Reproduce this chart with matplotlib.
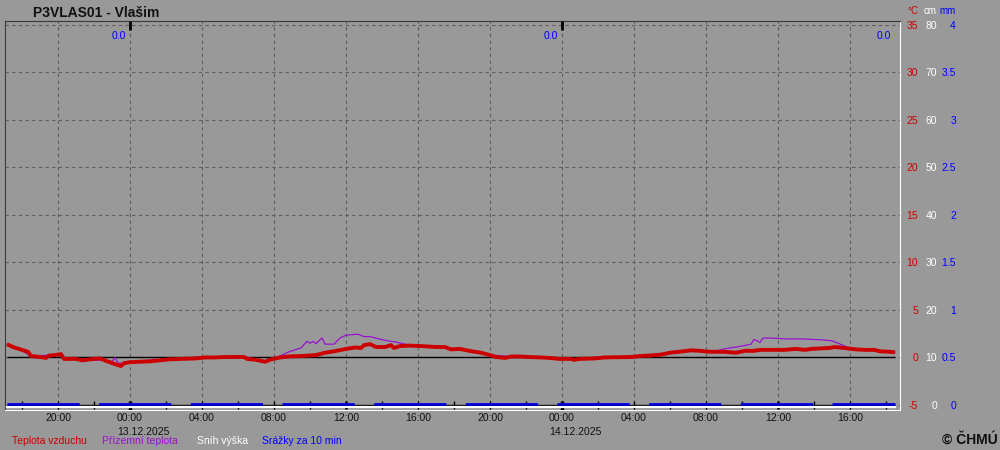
import matplotlib
matplotlib.use("Agg")
import matplotlib.pyplot as plt
import matplotlib.dates as mdates
import matplotlib.transforms as mtransforms
from matplotlib.ticker import FuncFormatter
import pandas as pd

plt.rcParams['font.family'] = ['Liberation Sans', 'DejaVu Sans']
plt.rcParams['axes.unicode_minus'] = False

# Teplota vzduchu (°C)
air_times = [
    "2025-12-12 17:10", "2025-12-12 17:30", "2025-12-12 17:50", "2025-12-12 18:20", "2025-12-12 18:30",
    "2025-12-12 19:00", "2025-12-12 19:20", "2025-12-12 19:30", "2025-12-12 19:50", "2025-12-12 20:10",
    "2025-12-12 20:20", "2025-12-12 21:00", "2025-12-12 21:20", "2025-12-12 22:00", "2025-12-12 22:20",
    "2025-12-12 22:40", "2025-12-12 23:10", "2025-12-12 23:30", "2025-12-12 23:40",
    "2025-12-13 00:00", "2025-12-13 00:30", "2025-12-13 01:10", "2025-12-13 01:40", "2025-12-13 02:10",
    "2025-12-13 02:50", "2025-12-13 03:40", "2025-12-13 04:10", "2025-12-13 04:40", "2025-12-13 05:20",
    "2025-12-13 06:20", "2025-12-13 06:30", "2025-12-13 07:00", "2025-12-13 07:30", "2025-12-13 07:50",
    "2025-12-13 08:20", "2025-12-13 08:50", "2025-12-13 09:30", "2025-12-13 10:20", "2025-12-13 10:50",
    "2025-12-13 11:20", "2025-12-13 12:00", "2025-12-13 12:30", "2025-12-13 12:50", "2025-12-13 13:00",
    "2025-12-13 13:20", "2025-12-13 13:40", "2025-12-13 14:10", "2025-12-13 14:30", "2025-12-13 14:40",
    "2025-12-13 15:00", "2025-12-13 15:30", "2025-12-13 16:10", "2025-12-13 17:00", "2025-12-13 17:30",
    "2025-12-13 17:50", "2025-12-13 18:20", "2025-12-13 18:50", "2025-12-13 19:30", "2025-12-13 20:00",
    "2025-12-13 20:20", "2025-12-13 20:50", "2025-12-13 21:10", "2025-12-13 21:40", "2025-12-13 22:10",
    "2025-12-13 22:50", "2025-12-13 23:20", "2025-12-13 23:50",
    "2025-12-14 00:30", "2025-12-14 00:40", "2025-12-14 01:00", "2025-12-14 01:50", "2025-12-14 02:20",
    "2025-12-14 03:50", "2025-12-14 04:20", "2025-12-14 04:50", "2025-12-14 05:30", "2025-12-14 06:00",
    "2025-12-14 06:30", "2025-12-14 07:10", "2025-12-14 07:40", "2025-12-14 08:10", "2025-12-14 09:00",
    "2025-12-14 09:40", "2025-12-14 10:10", "2025-12-14 10:40", "2025-12-14 11:00", "2025-12-14 11:30",
    "2025-12-14 12:20", "2025-12-14 13:00", "2025-12-14 13:30", "2025-12-14 13:50", "2025-12-14 14:20",
    "2025-12-14 14:50", "2025-12-14 15:10", "2025-12-14 15:40", "2025-12-14 16:20", "2025-12-14 16:50",
    "2025-12-14 17:20", "2025-12-14 17:40", "2025-12-14 18:10", "2025-12-14 18:30",
]
air_temp = [
    1.4, 1.1, 0.9, 0.6, 0.15, 0.05, -0.05, 0.2, 0.25, 0.35,
    -0.15, -0.15, -0.3, -0.15, -0.1, -0.35, -0.7, -0.9, -0.6,
    -0.5, -0.45, -0.4, -0.3, -0.2, -0.15, -0.1, 0.0, 0.0, 0.05,
    0.05, -0.15, -0.25, -0.45, -0.2, 0.0, 0.1, 0.15, 0.25, 0.5,
    0.65, 0.9, 1.05, 1.0, 1.3, 1.4, 1.1, 1.1, 1.3, 1.0,
    1.2, 1.25, 1.2, 1.1, 1.1, 0.85, 0.9, 0.7, 0.5, 0.25,
    0.05, -0.05, 0.1, 0.1, 0.05, 0.0, -0.05, -0.15,
    -0.15, -0.25, -0.15, -0.1, 0.0, 0.05, 0.15, 0.2, 0.3, 0.5,
    0.6, 0.75, 0.7, 0.6, 0.6, 0.5, 0.7, 0.7, 0.8, 0.8,
    0.8, 0.9, 0.8, 0.9, 0.95, 1.0, 1.1, 1.0, 0.85, 0.8,
    0.8, 0.65, 0.6, 0.55,
]

# Přízemní teplota (°C)
ground_times = [
    "2025-12-12 17:10", "2025-12-12 17:50", "2025-12-12 18:30", "2025-12-12 20:10", "2025-12-12 20:20",
    "2025-12-12 21:20", "2025-12-12 22:40", "2025-12-12 23:00", "2025-12-12 23:10", "2025-12-12 23:20",
    "2025-12-12 23:40",
    "2025-12-13 00:30", "2025-12-13 01:10", "2025-12-13 01:20", "2025-12-13 01:30", "2025-12-13 02:50",
    "2025-12-13 03:40", "2025-12-13 06:20", "2025-12-13 07:30", "2025-12-13 08:00", "2025-12-13 08:50",
    "2025-12-13 09:30", "2025-12-13 09:50", "2025-12-13 10:00", "2025-12-13 10:10", "2025-12-13 10:20",
    "2025-12-13 10:40", "2025-12-13 10:50", "2025-12-13 11:20", "2025-12-13 11:40", "2025-12-13 12:00",
    "2025-12-13 12:40", "2025-12-13 13:00", "2025-12-13 13:20", "2025-12-13 13:50", "2025-12-13 14:20",
    "2025-12-13 14:50", "2025-12-13 15:30", "2025-12-13 16:10", "2025-12-13 17:30", "2025-12-13 18:50",
    "2025-12-13 20:00", "2025-12-13 21:40", "2025-12-13 23:20",
    "2025-12-14 00:40", "2025-12-14 02:20", "2025-12-14 04:50", "2025-12-14 06:00", "2025-12-14 07:10",
    "2025-12-14 08:30", "2025-12-14 09:00", "2025-12-14 10:00", "2025-12-14 10:30", "2025-12-14 10:40",
    "2025-12-14 11:00", "2025-12-14 11:10", "2025-12-14 11:30", "2025-12-14 12:30", "2025-12-14 13:20",
    "2025-12-14 14:30", "2025-12-14 15:00", "2025-12-14 15:20", "2025-12-14 15:50", "2025-12-14 16:20",
    "2025-12-14 17:40", "2025-12-14 18:30",
]
ground_temp = [
    1.4, 0.9, 0.15, 0.3, -0.1, -0.25, -0.3, -0.45, 0.0, -0.6,
    -0.6,
    -0.35, -0.3, -0.15, -0.35, -0.1, 0.0, 0.1, -0.4, -0.15, 0.6,
    1.0, 1.7, 1.5, 1.7, 1.45, 2.05, 1.4, 1.4, 2.05, 2.35,
    2.45, 2.2, 2.2, 1.95, 1.75, 1.6, 1.3, 1.2, 1.1, 0.7,
    0.25, 0.05, -0.1,
    -0.2, 0.0, 0.2, 0.5, 0.75, 0.65, 0.9, 1.2, 1.4, 1.9,
    1.6, 2.05, 2.05, 1.95, 1.95, 1.85, 1.75, 1.5, 1.1, 0.85,
    0.65, 0.55,
]

# Sníh výška (cm) a Srážky za 10 min (mm)
snow_times = ["2025-12-12 17:10", "2025-12-14 18:30"]
snow_cm = [0, 0]
rain_times = ["2025-12-12 17:10", "2025-12-14 18:30"]
rain_mm = [0.0, 0.0]

# denní úhrny srážek
day_end_times = ["2025-12-13 00:00", "2025-12-14 00:00", "2025-12-14 18:30"]
day_rain_sum = [0.0, 0.0, 0.0]

temp_ticks = [-5, 0, 5, 10, 15, 20, 25, 30, 35]
cm_ticks = [0, 10, 20, 30, 40, 50, 60, 70, 80]
mm_ticks = [0, 0.5, 1, 1.5, 2, 2.5, 3, 3.5, 4]
mm_labels = ["0", "0.5", "1", "1.5", "2", "2.5", "3", "3.5", "4"]

legend_labels = ["Teplota vzduchu", "Přízemní teplota", "Sníh výška", "Srážky za 10 min"]
legend_colors = ["#cc0000", "#9a10d0", "white", "#0000ff"]

BG = "#999999"
RED = "#cc0000"
PURPLE = "#9a10d0"
BLUE = "#0000ff"

air_t = pd.to_datetime(air_times)
ground_t = pd.to_datetime(ground_times)
snow_t = pd.to_datetime(snow_times)
rain_t = pd.to_datetime(rain_times)
day_end_t = pd.to_datetime(day_end_times)

fig = plt.figure(figsize=(10, 4.5), dpi=100, facecolor=BG)
ax = fig.add_axes([0.005, 0.0889, 0.895, 0.8644], facecolor=BG)

t_lo, t_hi = -5.53, 35.42
ax.set_ylim(t_lo, t_hi)
ax.set_xlim(pd.Timestamp("2025-12-12 17:03:20"), pd.Timestamp("2025-12-14 18:46:40"))

# twin scales for snow (cm) and precipitation (mm)
ax_cm = ax.twinx()
ax_cm.set_ylim((t_lo + 5) * 2, (t_hi + 5) * 2)
ax_mm = ax.twinx()
ax_mm.set_ylim((t_lo + 5) / 10, (t_hi + 5) / 10)

# grid + axes
ax.set_axisbelow(True)
ax.xaxis.set_major_locator(mdates.HourLocator(byhour=[0, 4, 8, 12, 16, 20]))
ax.xaxis.set_major_formatter(FuncFormatter(lambda x, pos: mdates.num2date(x).strftime("%H:%M")))
ax.set_yticks(temp_ticks)
ax.grid(True, color="#5e5e5e", linestyle=(0, (3, 3)), linewidth=0.8)
ax.tick_params(axis="x", length=0, pad=2, labelsize=7.5, labelcolor="#111111")
ax.yaxis.tick_right()
ax.tick_params(axis="y", length=0, pad=13, labelsize=7.5, labelcolor=RED)
for lab in ax.get_yticklabels():
    lab.set_horizontalalignment("right")

for side in ["left", "top"]:
    ax.spines[side].set_color("#3a3a3a")
for side in ["right", "bottom"]:
    ax.spines[side].set_color("white")

# date labels under midnight
for d in ax.xaxis.get_majorticklocs():
    dt = mdates.num2date(d)
    if dt.hour == 0:
        ax.annotate(dt.strftime("%d.%m.%Y"), xy=(d, 0), xycoords=("data", "axes fraction"),
                    xytext=(-9.4, -12.5), textcoords="offset points", ha="left", va="top",
                    fontsize=7.5, color="#111111")

# reference lines over data span
t_first, t_last = air_t[0], air_t[-1]
ax.hlines([0, -5], t_first, t_last, color="black", lw=1, zorder=2)

# time ticks along baseline
tick_loc = mdates.HourLocator(byhour=range(0, 24, 2))
for d in tick_loc.tick_values(t_first.to_pydatetime(), t_last.to_pydatetime()):
    dt = mdates.num2date(d)
    if mdates.date2num(t_first) <= d <= mdates.date2num(t_last):
        if dt.hour == 0:
            ax.vlines(d, -5.5, -4.55, color="black", lw=2.5, zorder=6)
            ax.vlines(d, 34.5, t_hi, color="black", lw=2, zorder=6)
        elif dt.hour == 12:
            ax.vlines(d, -5.45, -4.6, color="black", lw=1.8, zorder=6)
        else:
            ax.vlines(d, -5.4, -4.6, color="black", lw=1, zorder=6)

# temperature series
ax.plot(ground_t, ground_temp, color=PURPLE, lw=0.9, zorder=3)
ax.plot(air_t, air_temp, color=RED, lw=2.8, zorder=4, solid_capstyle="butt")

# snow (cm)
ax_cm.set_yticks(cm_ticks)
ax_cm.tick_params(axis="y", length=0, pad=26.6, labelsize=7.5, labelcolor="white")
for lab in ax_cm.get_yticklabels():
    lab.set_horizontalalignment("right")
for s in ax_cm.spines.values():
    s.set_visible(False)
down = mtransforms.ScaledTranslation(0, -1.2 / 72, fig.dpi_scale_trans)
ax_cm.plot(snow_t, snow_cm, color="white", lw=1.6, transform=ax_cm.transData + down, zorder=3)

# precipitation (mm)
ax_mm.set_yticks(mm_ticks)
ax_mm.set_yticklabels(mm_labels)
ax_mm.tick_params(axis="y", length=0, pad=40.3, labelsize=7.5, labelcolor=BLUE)
for lab in ax_mm.get_yticklabels():
    lab.set_horizontalalignment("right")
for s in ax_mm.spines.values():
    s.set_visible(False)
up = mtransforms.ScaledTranslation(0, 1.0 / 72, fig.dpi_scale_trans)
ax_mm.plot(rain_t, rain_mm, color="#0000dd", lw=2.0, linestyle=(0, (26, 7)),
           transform=ax_mm.transData + up, zorder=4)

# daily sums
for t, v in zip(day_end_t, day_rain_sum):
    ax.annotate(f"{v:.1f}", xy=(t, 33.85), xytext=(-3, 0), textcoords="offset points",
                ha="right", va="center", fontsize=7.5, color=BLUE)

# unit headers
fig.text(0.918, 1 - 11 / 450, "°C", color=RED, fontsize=7, ha="right", va="center")
fig.text(0.937, 1 - 11 / 450, "cm", color="white", fontsize=7, ha="right", va="center")
fig.text(0.956, 1 - 11 / 450, "mm", color=BLUE, fontsize=7, ha="right", va="center")

# title
fig.text(0.033, 1 - 16.7 / 450, "P3VLAS01 - Vlašim", fontsize=10, fontweight="bold",
         color="#111111", ha="left", va="baseline")

# legend texts
for x, lab, c in zip([12, 102, 197, 262], legend_labels, legend_colors):
    fig.text(x / 1000, 1 - 441 / 450, lab, color=c, fontsize=7.5, ha="left", va="center")

fig.text(0.998, 1 - 440 / 450, "© ČHMÚ", fontsize=10, fontweight="bold", color="#111111",
         ha="right", va="center")

fig.savefig("out.png", dpi=100, facecolor=BG)
plt.close(fig)
